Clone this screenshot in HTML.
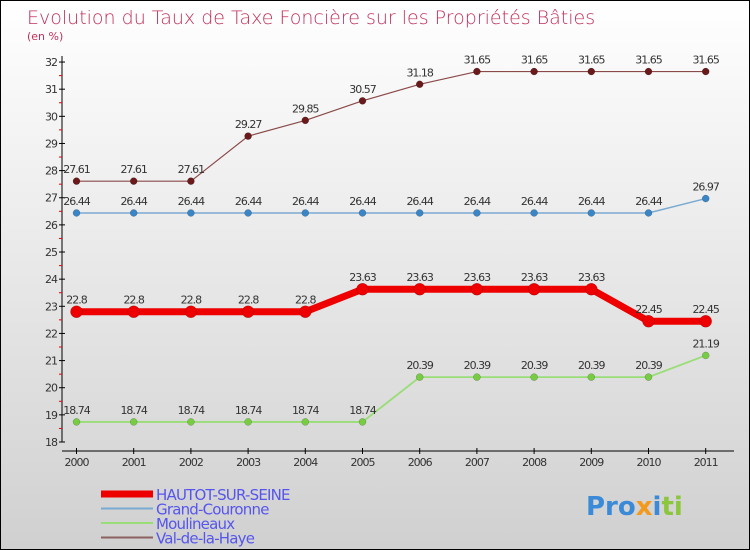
<!DOCTYPE html>
<html><head><meta charset="utf-8"><style>
body{margin:0}
#c{width:750px;height:550px;position:relative;overflow:hidden;font-family:"DejaVu Sans","Liberation Sans",sans-serif;background:linear-gradient(#fff,#d0d0d0);border:1px solid #000;box-sizing:border-box}
</style></head><body>
<div id="c">
<svg id="s" width="750" height="550" style="position:absolute;left:0;top:0">
<text x="26" y="23" font-size="19" fill="#c0305a" font-family="DejaVu Sans" font-weight="200">Evolution du Taux de Taxe Foncière sur les Propriétés Bâties</text>
<text x="26" y="39" font-size="11" fill="#c0305a">(en %)</text>
<g id="ax"></g><g id="series"></g>
<text x="585" y="514" font-size="26" font-weight="bold" font-family="DejaVu Sans"><tspan fill="#3a8ad8">Pro</tspan><tspan fill="#f39a1c">x</tspan><tspan fill="#3a8ad8">i</tspan><tspan fill="#8cc63f">ti</tspan></text>
</svg>
</div>
<script>
const years=[2000,2001,2002,2003,2004,2005,2006,2007,2008,2009,2010,2011];
const hautot=[22.8,22.8,22.8,22.8,22.8,23.63,23.63,23.63,23.63,23.63,22.45,22.45];
const grand=[26.44,26.44,26.44,26.44,26.44,26.44,26.44,26.44,26.44,26.44,26.44,26.97];
const moul=[18.74,18.74,18.74,18.74,18.74,18.74,20.39,20.39,20.39,20.39,20.39,21.19];
const valh=[27.61,27.61,27.61,29.27,29.85,30.57,31.18,31.65,31.65,31.65,31.65,31.65];
const yTicks=[18,19,20,21,22,23,24,25,26,27,28,29,30,31,32];
const NS="http://www.w3.org/2000/svg";
const X=i=>75.5+i*57.2, Y=v=>441-(v-18)*27.14;
function mk(t,a,p){const e=document.createElementNS(NS,t);for(const k in a)e.setAttribute(k,a[k]);p.appendChild(e);return e;}
const ax=document.getElementById('ax'), sg=document.getElementById('series');
const yl=mk('line',{x1:61,y1:55,x2:61,y2:441,stroke:'#000'},ax);


const xl=mk('line',{x1:61,y1:450,x2:733,y2:450,stroke:'#000'},ax);


yTicks.forEach(v=>{
 mk('line',{x1:58,x2:64,y1:Y(v),y2:Y(v),stroke:'#000'},ax);
 if(v<32)mk('line',{x1:58,x2:61,y1:Y(v+0.5),y2:Y(v+0.5),stroke:'#e00'},ax);
 const t=mk('text',{x:56,y:Y(v)+4,'text-anchor':'end','font-size':11,fill:'#333','letter-spacing':'-1'},ax);
 t.textContent=v;
 
 
});
years.forEach((y,i)=>{
 mk('line',{x1:X(i),x2:X(i),y1:447,y2:453,stroke:'#000'},ax);
 const t=mk('text',{x:X(i),y:465,'text-anchor':'middle','font-size':11,fill:'#333','letter-spacing':'-1'},ax);
 t.textContent=y;
 
 
});
function series(d,col,w,r,dot,name){
 const g=mk('g',{},sg);
 
 
 mk('polyline',{points:d.map((v,i)=>X(i)+','+Y(v)).join(' '),fill:'none',stroke:col,'stroke-width':w},g);
 d.forEach((v,i)=>{
  const c=mk('circle',{cx:X(i),cy:Y(v),r:r,fill:dot,stroke:'rgba(0,0,0,0.3)','stroke-width':0.5},g);
  
  
  const t=mk('text',{x:X(i),y:Y(v)-8,'text-anchor':'middle','font-size':11,fill:'#333','letter-spacing':'-1'},g);
  t.textContent=v;
  
  
 });
}
series(valh,'#8b4a4a',1.2,3.5,'#6a1a1a','val-de-la-haye-series');
series(grand,'#7aaad0',1.5,3.5,'#3a85c6','grand-couronne-series');
series(moul,'#99dd77',1.8,3.5,'#77cc44','moulineaux-series');
series(hautot,'#ee0000',7,6,'#ee0000','hautot-series');
const leg=[['HAUTOT-SUR-SEINE','#ee0000',7],['Grand-Couronne','#7aaad0',2],['Moulineaux','#99dd77',2],['Val-de-la-Haye','#8b6060',2]];
leg.forEach((l,i)=>{
 const g=mk('g',{},sg);
 
 
 const y=493+i*14.5;
 mk('line',{x1:100,x2:152,y1:y,y2:y,stroke:l[1],'stroke-width':l[2]},g);
 const t=mk('text',{x:155,y:y+6,'font-size':15,fill:'#5555ee','letter-spacing':'-0.8'},g);
 t.textContent=l[0];
});
</script>
</body></html>
